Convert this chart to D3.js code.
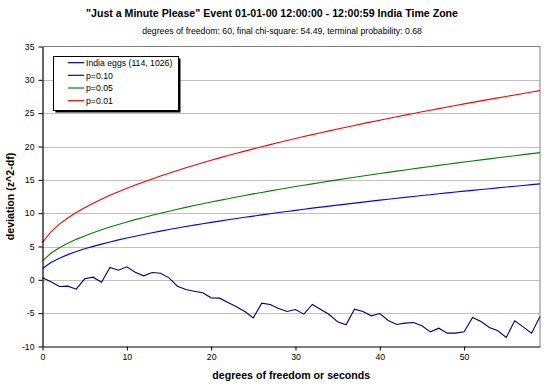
<!DOCTYPE html>
<html>
<head>
<meta charset="utf-8">
<script src="https://cdn.jsdelivr.net/npm/d3@7"></script>
<style>
  body { margin: 0; background: #fff; }
  text { font-family: "Liberation Sans", Arial, sans-serif; }
</style>
</head>
<body>
<svg id="chart" width="549" height="385"></svg>
<script>
// ---- data ----
const seconds = d3.range(0, 60);
const xTicks = [0, 10, 20, 30, 40, 50];
const yTicks = [-10, -5, 0, 5, 10, 15, 20, 25, 30, 35];

const indiaEggs = [0.3, -0.3, -1.0, -0.95, -1.4, 0.15, 0.4, -0.35, 1.85, 1.45,
  1.95, 1.15, 0.6, 1.1, 1.0, 0.3, -0.95, -1.45, -1.7, -1.95,
  -2.7, -2.75, -3.4, -4.05, -4.75, -5.7, -3.5, -3.7, -4.3, -4.75,
  -4.45, -5.15, -3.7, -4.45, -5.2, -6.3, -6.75, -4.4, -4.75, -5.4,
  -5.05, -6.1, -6.7, -6.5, -6.4, -6.9, -7.8, -7.25, -8.0, -8.0,
  -7.8, -5.65, -6.25, -7.15, -7.65, -8.65, -6.15, -7.05, -8.0, -5.51];

const p10 = [1.71, 2.61, 3.25, 3.78, 4.24, 4.65, 5.02, 5.36, 5.68, 5.99,
  6.28, 6.55, 6.81, 7.06, 7.31, 7.54, 7.77, 7.99, 8.20, 8.41,
  8.62, 8.81, 9.01, 9.20, 9.38, 9.56, 9.74, 9.92, 10.09, 10.26,
  10.42, 10.59, 10.75, 10.90, 11.06, 11.21, 11.36, 11.51, 11.66, 11.81,
  11.95, 12.09, 12.23, 12.37, 12.51, 12.64, 12.77, 12.91, 13.04, 13.17,
  13.30, 13.42, 13.55, 13.67, 13.80, 13.92, 14.04, 14.16, 14.28, 14.40];

const p05 = [2.84, 3.99, 4.82, 5.49, 6.07, 6.59, 7.07, 7.51, 7.92, 8.31,
  8.68, 9.03, 9.36, 9.69, 10.00, 10.30, 10.59, 10.87, 11.14, 11.41,
  11.67, 11.92, 12.17, 12.42, 12.65, 12.89, 13.11, 13.34, 13.56, 13.77,
  13.99, 14.19, 14.40, 14.60, 14.80, 15.00, 15.19, 15.38, 15.57, 15.76,
  15.94, 16.12, 16.30, 16.48, 16.66, 16.83, 17.00, 17.17, 17.34, 17.51,
  17.67, 17.83, 17.99, 18.15, 18.31, 18.47, 18.62, 18.78, 18.93, 19.08];

const p01 = [5.63, 7.21, 8.35, 9.28, 10.09, 10.81, 11.48, 12.09, 12.67, 13.21,
  13.73, 14.22, 14.69, 15.14, 15.58, 16.00, 16.41, 16.81, 17.19, 17.57,
  17.93, 18.29, 18.64, 18.98, 19.31, 19.64, 19.96, 20.28, 20.59, 20.89,
  21.19, 21.49, 21.78, 22.06, 22.34, 22.62, 22.89, 23.16, 23.43, 23.69,
  23.95, 24.21, 24.46, 24.71, 24.96, 25.20, 25.44, 25.68, 25.92, 26.15,
  26.39, 26.62, 26.84, 27.07, 27.29, 27.51, 27.73, 27.95, 28.17, 28.38];

const seriesNames = ["India eggs (114, 1026)", "p=0.10", "p=0.05", "p=0.01"];
const seriesColors = ["#000080", "#0000ff", "#008000", "#ff0000"];
const seriesValues = [indiaEggs, p10, p05, p01];

const titleText = "\"Just a Minute Please\" Event 01-01-00 12:00:00 - 12:00:59 India Time Zone";
const subtitleText = "degrees of freedom: 60,  final chi-square: 54.49,  terminal probability: 0.68";
const xTitle = "degrees of freedom or seconds";
const yTitle = "deviation (z^2-df)";

// ---- drawing ----
const svg = d3.select("#chart");
const x = d3.scaleLinear().domain([0, 59]).range([42.5, 540]);
const y = d3.scaleLinear().domain([-10, 35]).range([346.5, 46.5]);

// gridlines
svg.append("g").selectAll("line").data(yTicks.filter(d => d > -10 && d < 35)).join("line")
  .attr("x1", x(0)).attr("x2", x(59))
  .attr("y1", d => Math.round(y(d)) + 0.5).attr("y2", d => Math.round(y(d)) + 0.5)
  .attr("stroke", "#c0c0c0").attr("stroke-width", 1);

// top & right border
svg.append("path")
  .attr("d", `M${x(0)},${y(35)}H${x(59)}V${y(-10)}`)
  .attr("fill", "none").attr("stroke", "#808080").attr("stroke-width", 1);

// lines
const line = d3.line().x((d, i) => x(seconds[i])).y(d => y(d));
[3, 2, 1, 0].forEach(k => {
  svg.append("path").datum(seriesValues[k])
    .attr("d", line)
    .attr("fill", "none")
    .attr("stroke", seriesColors[k])
    .attr("stroke-width", 1.1);
});

// axes
const yAxis = d3.axisLeft(y).tickValues(yTicks).tickSize(4).tickSizeOuter(0).tickFormat(d => String(d));
const gy = svg.append("g").attr("transform", `translate(${x(0)},0)`).call(yAxis);
const xAxis = d3.axisBottom(x).tickValues(xTicks).tickSize(4).tickSizeOuter(0).tickFormat(d => String(d));
const gx = svg.append("g").attr("transform", `translate(0,${y(-10)})`).call(xAxis);
[gx, gy].forEach(g => {
  g.select(".domain").attr("stroke", "#000").attr("stroke-width", 1.2);
  g.selectAll(".tick line").attr("stroke", "#000");
  g.selectAll(".tick text").attr("font-family", "Liberation Sans, Arial, sans-serif")
    .attr("font-size", "8.7px").attr("fill", "#000");
});
gy.selectAll(".tick text").attr("x", -8);
gx.selectAll(".tick text").attr("y", 7);

// titles
svg.append("text").attr("x", 272).attr("y", 17).attr("text-anchor", "middle")
  .attr("font-size", "10.6px").attr("font-weight", "bold").text(titleText);
svg.append("text").attr("x", 282).attr("y", 34).attr("text-anchor", "middle")
  .attr("font-size", "8.7px").text(subtitleText);
svg.append("text").attr("x", (x(0) + x(59)) / 2).attr("y", 379).attr("text-anchor", "middle")
  .attr("font-size", "10.6px").attr("font-weight", "bold").text(xTitle);
svg.append("text").attr("transform", `translate(14,${(y(35) + y(-10)) / 2}) rotate(-90)`)
  .attr("text-anchor", "middle")
  .attr("font-size", "10.6px").attr("font-weight", "bold").text(yTitle);

// legend
const lg = svg.append("g");
lg.append("rect").attr("x", 55.5).attr("y", 58.5).attr("width", 125).attr("height", 54).attr("fill", "#000");
lg.append("rect").attr("x", 53.5).attr("y", 56.5).attr("width", 125).attr("height", 54)
  .attr("fill", "#fff").attr("stroke", "#000").attr("stroke-width", 1);
const rowY = [62.7, 75.3, 88, 100.7];
seriesNames.forEach((name, i) => {
  lg.append("line").attr("x1", 68).attr("x2", 84).attr("y1", rowY[i]).attr("y2", rowY[i])
    .attr("stroke", seriesColors[i]).attr("stroke-width", 1.2);
  lg.append("text").attr("x", 86).attr("y", rowY[i] + 3.2).attr("font-size", "8.7px").text(name);
});
</script>
</body>
</html>
